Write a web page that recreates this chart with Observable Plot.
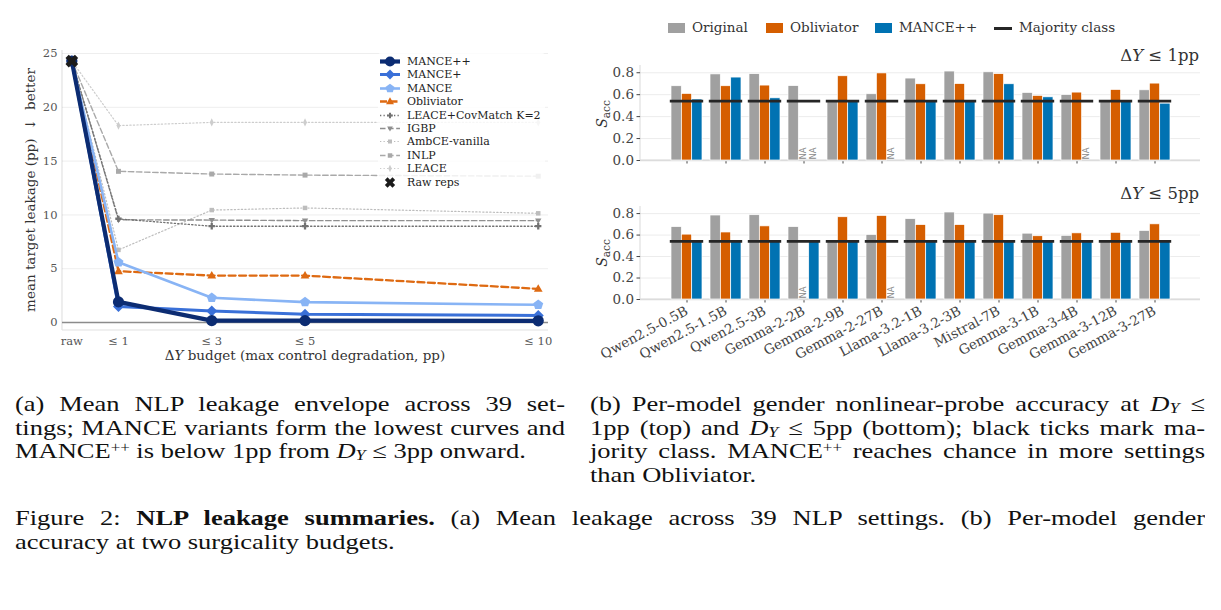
<!DOCTYPE html>
<html>
<head>
<meta charset="utf-8">
<script src="https://cdn.jsdelivr.net/npm/d3@7"></script>
<script src="https://cdn.jsdelivr.net/npm/@observablehq/plot@0.6"></script>
<style>
  html, body { margin: 0; padding: 0; background: #fff; }
  body { width: 1221px; height: 610px; position: relative; overflow: hidden; font-family: "DejaVu Serif", serif; }
  .abs { position: absolute; }
  .plotbox svg { display: block; }
  .cap { font-family: "Liberation Serif", "Times New Roman", serif; font-size: 21.2px; line-height: 23.5px; color: #111; transform: scaleX(1.25); transform-origin: 0 0; }
  .cap div { text-align: justify; text-align-last: justify; white-space: nowrap; }
  .cap div.last { text-align-last: left; }
  .cap sup { font-size: 0.64em; line-height: 0; vertical-align: 0.42em; }
  .cap sub { font-size: 0.68em; line-height: 0; vertical-align: -0.16em; }
  .axlabel { font-size: 13.5px; color: #333; white-space: nowrap; }
  .leg1 { left: 378px; top: 53px; width: 167px; height: 136px; background: rgba(255,255,255,0.82); border-radius: 3px; }
  .leg1 .row { position: absolute; left: 0; height: 13px; display: flex; align-items: center; font-size: 11px; color: #222; white-space: nowrap; }
  .leg1 .row svg { margin-left: 2px; margin-right: 7px; }
  .leg2 { font-size: 13.5px; color: #333; white-space: nowrap; }
  .sw { position: absolute; width: 17px; height: 10px; }
  .ptitle { font-size: 16.5px; line-height: 16.5px; color: #333; white-space: nowrap; text-align: right; }
  .sacc { font-size: 14px; color: #333; white-space: nowrap; }
  .sacc sub { font-size: 0.75em; }
</style>
</head>
<body>
<script>
// ---------- Panel (a): mean leakage envelope ----------
const budgets = [0, 1, 3, 5, 10];
const budgetLabels = ["raw", "≤ 1", "≤ 3", "≤ 5", "≤ 10"];
const rawLeakage = 24.3;
const mancePP   = [24.3, 1.92, 0.18, 0.18, 0.16];
const mancePlus = [24.3, 1.50, 1.08, 0.78, 0.66];
const manceBase = [24.3, 5.60, 2.30, 1.90, 1.65];
const obliviatorA = [24.3, 4.77, 4.36, 4.36, 3.13];
const leaceCov  = [24.3, 9.63, 8.95, 8.95, 8.95];
const igbp      = [24.3, 9.55, 9.52, 9.47, 9.47];
const ambce     = [24.3, 6.75, 10.45, 10.65, 10.15];
const inlp      = [24.3, 14.05, 13.80, 13.70, 13.60];
const leace     = [24.3, 18.30, 18.60, 18.60, 18.60];

// ---------- Panel (b): per-model probe accuracy ----------
const models = ["Qwen2.5-0.5B", "Qwen2.5-1.5B", "Qwen2.5-3B", "Gemma-2-2B", "Gemma-2-9B", "Gemma-2-27B",
  "Llama-3.2-1B", "Llama-3.2-3B", "Mistral-7B", "Gemma-3-1B", "Gemma-3-4B", "Gemma-3-12B", "Gemma-3-27B"];
const methods = ["Original", "Obliviator", "MANCE++"];
const original1   = [0.677, 0.785, 0.787, 0.678, 0.538, 0.604, 0.747, 0.811, 0.804, 0.616, 0.597, 0.538, 0.640];
const obliviator1 = [0.607, 0.677, 0.683, null, 0.768, 0.794, 0.695, 0.697, 0.787, 0.589, 0.619, 0.643, 0.701];
const mancePP1    = [0.556, 0.756, 0.567, null, 0.540, null, 0.540, 0.540, 0.695, 0.576, null, 0.540, 0.518];
const original5   = [0.674, 0.782, 0.785, 0.674, 0.538, 0.601, 0.748, 0.810, 0.800, 0.613, 0.593, 0.538, 0.638];
const obliviator5 = [0.604, 0.624, 0.681, null, 0.766, 0.778, 0.693, 0.693, 0.785, 0.589, 0.616, 0.621, 0.700];
const mancePP5    = [0.540, 0.540, 0.540, 0.540, 0.540, null, 0.540, 0.540, 0.540, 0.540, 0.540, 0.540, 0.540];
const majority    = [0.541, 0.541, 0.541, 0.541, 0.541, 0.541, 0.541, 0.541, 0.541, 0.541, 0.541, 0.541, 0.541];

// ---------- marker shapes (size = area, as for d3 symbols) ----------
function polygon(pts) {
  return {
    draw(ctx, size) {
      const r = Math.sqrt(size / Math.PI);
      ctx.moveTo(pts[0][0] * r, pts[0][1] * r);
      for (let i = 1; i < pts.length; ++i) ctx.lineTo(pts[i][0] * r, pts[i][1] * r);
      ctx.closePath();
    }
  };
}
const regular = (n, rot) => d3.range(n).map(k => {
  const a = rot + (2 * Math.PI * k) / n;
  return [Math.cos(a), Math.sin(a)];
});
const crossPts = (a, t, rot) => [[-t,-a],[t,-a],[t,-t],[a,-t],[a,t],[t,t],[t,a],[-t,a],[-t,t],[-a,t],[-a,-t],[-t,-t]]
  .map(([x, y]) => [x * Math.cos(rot) - y * Math.sin(rot), x * Math.sin(rot) + y * Math.cos(rot)]);
const symRhombus = polygon([[0, -1.1], [1.1, 0], [0, 1.1], [-1.1, 0]]);
const symThin = polygon([[0, -1.15], [0.55, 0], [0, 1.15], [-0.55, 0]]);
const symTriUp = polygon(regular(3, -Math.PI / 2).map(([x, y]) => [x * 1.15, y * 1.15 + 0.1]));
const symTriDown = polygon(regular(3, Math.PI / 2).map(([x, y]) => [x * 1.15, y * 1.15 - 0.1]));
const symSquare = polygon([[-0.8, -0.8], [0.8, -0.8], [0.8, 0.8], [-0.8, 0.8]]);
const symPentagon = polygon(regular(5, -Math.PI / 2).map(([x, y]) => [x * 1.05, y * 1.05]));
const symPlus = polygon(crossPts(1.05, 0.38, 0));
const symX = polygon(crossPts(1.15, 0.4, Math.PI / 4));
const symCircle = { draw(ctx, size) { const r = Math.sqrt(size / Math.PI); ctx.moveTo(r, 0); ctx.arc(0, 0, r, 0, 2 * Math.PI); } };

// drawing order: faint baselines first, MANCE++ last
const seriesA = [
  { name: "LEACE", values: leace, color: "#cdcdcd", width: 1.2, dash: "1.3,2.2", symbol: symThin, r: 3.6 },
  { name: "INLP", values: inlp, color: "#a9a9a9", width: 1.4, dash: "5.5,2.6", symbol: symSquare, r: 3.1 },
  { name: "AmbCE-vanilla", values: ambce, color: "#bdbdbd", width: 1.2, dash: "1.3,2.2", symbol: symSquare, r: 2.8 },
  { name: "IGBP", values: igbp, color: "#8f8f8f", width: 1.4, dash: "5.5,2.6", symbol: symTriDown, r: 3.2 },
  { name: "LEACE+CovMatch K=2", values: leaceCov, color: "#727272", width: 1.3, dash: "1.3,2.2", symbol: symPlus, r: 3.0 },
  { name: "Obliviator", values: obliviatorA, color: "#de6a12", width: 2.3, dash: "7,3.5", symbol: symTriUp, r: 4.4 },
  { name: "MANCE", values: manceBase, color: "#88b4f5", width: 2.6, dash: null, symbol: symPentagon, r: 5.0 },
  { name: "MANCE+", values: mancePlus, color: "#3a70d8", width: 3.0, dash: null, symbol: symRhombus, r: 5.0 },
  { name: "MANCE++", values: mancePP, color: "#0c2c72", width: 4.2, dash: null, symbol: symCircle, r: 5.6 }
];
const legendOrder = ["MANCE++", "MANCE+", "MANCE", "Obliviator", "LEACE+CovMatch K=2", "IGBP", "AmbCE-vanilla", "INLP", "LEACE"];

function addSpines(svg, color, width) {
  const [x0, x1] = svg.scale("x").range;
  const [yb, yt] = svg.scale("y").range;
  const g = d3.select(svg).insert("g", "g").attr("stroke", color).attr("stroke-width", width);
  g.append("line").attr("x1", x0).attr("x2", x0).attr("y1", yb).attr("y2", yt);
  g.append("line").attr("x1", x0).attr("x2", x1).attr("y1", yb).attr("y2", yb);
}

function place(el, left, top, cls) {
  const div = document.createElement("div");
  div.className = "abs " + (cls || "");
  div.style.left = left + "px";
  div.style.top = top + "px";
  if (typeof el === "string") div.innerHTML = el; else div.appendChild(el);
  document.body.appendChild(div);
  return div;
}

// ---- panel (a) chart ----
const marksA = [Plot.ruleY([0], { stroke: "#8c8c8c", strokeWidth: 1.6 })];
for (const s of seriesA) {
  const rows = budgets.map((b, i) => ({ b, v: s.values[i] }));
  marksA.push(Plot.line(rows, { x: "b", y: "v", stroke: s.color, strokeWidth: s.width, strokeDasharray: s.dash || undefined }));
  marksA.push(Plot.dot(rows, { x: "b", y: "v", fill: s.color, stroke: "none", symbol: s.symbol, r: s.r }));
}
marksA.push(Plot.dot([{ b: budgets[0], v: rawLeakage }], { x: "b", y: "v", fill: "#1b1b1b", stroke: "none", symbol: symX, r: 5.8 }));

const plotA = Plot.plot({
  width: 560, height: 330,
  marginLeft: 62, marginRight: 12, marginTop: 10, marginBottom: 40,
  style: { fontFamily: "DejaVu Serif", fontSize: "11.5px", color: "#555", background: "transparent" },
  x: { type: "linear", domain: [-0.2, 10.22], ticks: budgets, tickFormat: d => budgetLabels[budgets.indexOf(d)], tickSize: 0, tickPadding: 6, label: null },
  y: { domain: [-0.74, 25.28], ticks: [0, 5, 10, 15, 20, 25], grid: true, tickSize: 0, tickPadding: 5, label: null },
  marks: marksA
});
addSpines(plotA, "#e2e2e2", 1.2);
place(plotA, 0, 40, "plotbox");

place("Δ<i>Y</i> budget (max control degradation, pp)", 0, 347, "axlabel").style.cssText += "width:610px;text-align:center;";
{
  const yl = place("mean target leakage (pp) &nbsp;↓&nbsp; better", 30, 190, "axlabel");
  yl.style.transform = "translate(-50%,-50%) rotate(-90deg)";
}

// legend of panel (a)
{
  const box = place("", 378, 53, "leg1");
  const entries = legendOrder.map(n => seriesA.find(s => s.name === n));
  entries.push({ name: "Raw reps", color: "#1b1b1b", symbol: symX, r: 5.2, noLine: true });
  entries.forEach((s, i) => {
    const row = document.createElement("div");
    row.className = "row";
    row.style.top = (2 + i * 13.4) + "px";
    const svg = d3.create("svg").attr("width", 20).attr("height", 13);
    if (!s.noLine) svg.append("line").attr("x1", 0).attr("x2", 20).attr("y1", 6.5).attr("y2", 6.5)
      .attr("stroke", s.color).attr("stroke-width", s.width).attr("stroke-dasharray", s.dash || null);
    svg.append("path").attr("transform", "translate(10,6.5)")
      .attr("d", d3.symbol(s.symbol, Math.PI * Math.pow(s.r * 0.9, 2))()).attr("fill", s.color);
    row.appendChild(svg.node());
    row.appendChild(document.createTextNode(s.name));
    box.appendChild(row);
  });
}

// ---- panel (b) charts ----
const barColors = ["#a0a0a0", "#d55e00", "#0072b2"];
function barPanel(values, showLabels, height, marginTop, marginBottom) {
  const W = 631, ml = 50, mr = 21, pIn = 0.216, pOut = 0.678;
  const step = (W - ml - mr) / (models.length - pIn + 2 * pOut);
  const third = (step * (1 - pIn)) / 3;
  const marks = [Plot.ruleY([0], { stroke: "#dcdcdc", strokeWidth: 1.6 })];
  values.forEach((arr, k) => {
    const rows = models.map((m, i) => ({ model: m, value: arr[i] })).filter(d => d.value != null);
    marks.push(Plot.barY(rows, {
      x: "model", y: "value", fill: barColors[k], stroke: "#fff", strokeWidth: 0.7,
      insetLeft: k * third, insetRight: (2 - k) * third
    }));
  });
  marks.push(Plot.tickY(models.map((m, i) => ({ model: m, value: majority[i] })), {
    x: "model", y: "value", stroke: "#262626", strokeWidth: 2.8, insetLeft: -1.2, insetRight: -1.2
  }));
  values.forEach((arr, k) => {
    const missing = models.filter((m, i) => arr[i] == null).map(m => ({ model: m }));
    if (missing.length) marks.push(Plot.text(missing, {
      x: "model", y: () => 0, text: () => "NA", rotate: -90, textAnchor: "start",
      dx: (k - 1) * third - 1, dy: -1, fontSize: 8.5, fill: "#8a8a8a", fontFamily: "DejaVu Sans"
    }));
  });
  const svg = Plot.plot({
    width: W, height, marginLeft: ml, marginRight: mr, marginTop, marginBottom,
    style: { fontFamily: "DejaVu Serif", fontSize: "13.5px", color: "#444", background: "transparent" },
    x: { type: "band", domain: models, paddingInner: pIn, paddingOuter: pOut, align: 0.5,
         tickSize: 3.5, tickPadding: showLabels ? 7 : 3, tickRotate: showLabels ? -28 : 0,
         tickFormat: showLabels ? (d => d) : (() => ""), label: null },
    y: { domain: [0, 0.866], ticks: [0, 0.2, 0.4, 0.6, 0.8], tickFormat: ".1f", grid: true, tickSize: 3.5, tickPadding: 3, label: null },
    marks
  });
  addSpines(svg, "#e0e0e0", 1.2);
  return svg;
}
place(barPanel([original1, obliviator1, mancePP1], false, 128, 25, 8), 590, 40, "plotbox");
place(barPanel([original5, obliviator5, mancePP5], true, 189, 26, 70), 590, 180, "plotbox");

// panel titles and y labels
place("Δ<i>Y</i> ≤ 1pp", 0, 48, "ptitle").style.cssText += "left:auto;right:22px;";
place("Δ<i>Y</i> ≤ 5pp", 0, 186, "ptitle").style.cssText += "left:auto;right:22px;";
for (const cy of [114, 253]) {
  const s = place("<i>S</i><sub>acc</sub>", 603, cy, "sacc");
  s.style.transform = "translate(-50%,-50%) rotate(-90deg)";
}

// legend of panel (b)
{
  const items = [
    { x: 668, label: methods[0], color: barColors[0] },
    { x: 766, label: methods[1], color: barColors[1] },
    { x: 875, label: methods[2], color: barColors[2] },
    { x: 994, label: "Majority class", line: true }
  ];
  for (const it of items) {
    const sw = place("", it.x, it.line ? 27 : 23, "sw");
    if (it.line) { sw.style.height = "2.6px"; sw.style.width = "18px"; sw.style.background = "#262626"; }
    else sw.style.background = it.color;
    place(it.label, it.x + (it.line ? 25 : 24), 19, "leg2");
  }
}
</script>

<div class="cap abs" style="left:15px;top:393px;width:440px;">
  <div>(a) Mean NLP leakage envelope across 39 set-</div>
  <div>tings; MANCE variants form the lowest curves and</div>
  <div class="last">MANCE<sup>++</sup> is below 1pp from <i>D</i><sub><i>Y</i></sub> ≤ 3pp onward.</div>
</div>
<div class="cap abs" style="left:590px;top:393px;width:492px;">
  <div>(b) Per-model gender nonlinear-probe accuracy at <i>D</i><sub><i>Y</i></sub> ≤</div>
  <div>1pp (top) and <i>D</i><sub><i>Y</i></sub> ≤ 5pp (bottom); black ticks mark ma-</div>
  <div>jority class. MANCE<sup>++</sup> reaches chance in more settings</div>
  <div class="last">than Obliviator.</div>
</div>
<div class="cap abs" style="left:15px;top:507px;width:952px;">
  <div>Figure 2: <b>NLP leakage summaries.</b> (a) Mean leakage across 39 NLP settings. (b) Per-model gender</div>
  <div class="last">accuracy at two surgicality budgets.</div>
</div>
</body>
</html>
